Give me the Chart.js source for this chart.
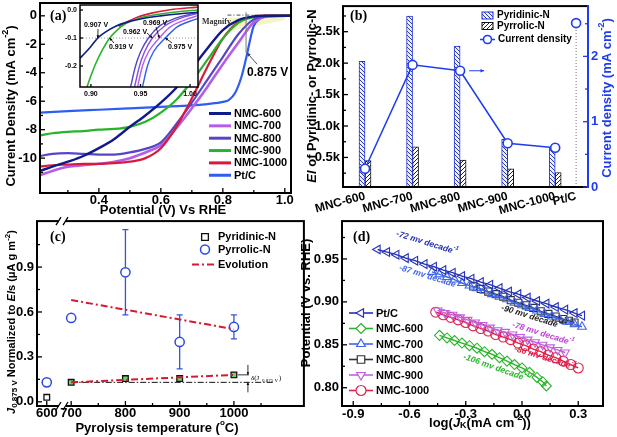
<!DOCTYPE html>
<html>
<head>
<meta charset="utf-8">
<script src="https://cdn.jsdelivr.net/npm/chart.js@4.4.1/dist/chart.umd.min.js"></script>
<style>
  body { margin: 0; background: #fff; }
  #wrap { position: relative; width: 617px; height: 437px; overflow: hidden; background: #fff; }
  canvas { position: absolute; }
</style>
</head>
<body>
<div id="wrap">
  <canvas id="ca" width="305" height="218" style="left:0;top:0"></canvas>
  <canvas id="cb" width="317" height="215" style="left:300px;top:0"></canvas>
  <canvas id="cc" width="310" height="222" style="left:0;top:215px"></canvas>
  <canvas id="cd" width="319" height="222" style="left:298px;top:215px"></canvas>
  <canvas id="ci" width="160" height="100" style="left:45px;top:0"></canvas>
</div>
<script>
// ---- (a) LSV curves, current density (mA cm-2) vs potential (V)
const lsvV  = [0.21, 0.25, 0.30, 0.35, 0.40, 0.45, 0.50, 0.55, 0.60, 0.65, 0.70, 0.75, 0.80, 0.85, 0.90, 0.95, 1.02];
const j600  = [-10.9, -10.6, -10.25, -9.85, -9.3, -8.65, -7.8, -7.0, -6.1, -5.05, -3.7, -2.3, -1.0, -0.3, -0.05, 0, 0];
const j700  = [-11.2, -10.9, -10.6, -10.5, -10.4, -10.25, -10.0, -9.6, -9.1, -7.9, -6.5, -5.0, -3.4, -1.9, -0.45, -0.02, 0];
const j800  = [-9.85, -9.7, -9.65, -9.7, -9.75, -9.75, -9.6, -9.35, -8.9, -7.6, -6.1, -4.5, -2.9, -1.3, -0.25, 0, 0];
const j900  = [-8.4, -8.25, -8.15, -8.1, -8.0, -7.95, -7.8, -7.45, -6.8, -5.9, -4.6, -3.1, -1.6, -0.5, -0.1, 0, 0.01];
const j1000 = [-10.6, -10.5, -10.45, -10.4, -10.4, -10.35, -10.25, -10.0, -9.3, -7.8, -5.8, -3.6, -1.6, -0.45, -0.05, 0.02, 0.03];
const ptV   = [0.21, 0.30, 0.40, 0.50, 0.60, 0.70, 0.75, 0.80, 0.82, 0.84, 0.86, 0.875, 0.89, 0.90, 0.92, 0.95, 1.02];
const jPt   = [-6.8, -6.7, -6.6, -6.5, -6.4, -6.3, -6.2, -6.05, -5.9, -5.4, -4.3, -3.0, -1.5, -0.7, -0.2, -0.05, 0];
const halfWave = 0.875;

// inset (magnified onset region)
const insV600  = [0.889, 0.895, 0.900, 0.907, 0.915, 0.925, 0.935, 0.950, 0.970, 0.990, 1.008];
const insJ600  = [-0.172, -0.150, -0.130, -0.100, -0.078, -0.058, -0.045, -0.032, -0.021, -0.013, -0.008];
const insV900  = [0.896, 0.900, 0.905, 0.912, 0.919, 0.927, 0.935, 0.950, 0.970, 0.990, 1.008];
const insJ900  = [-0.275, -0.235, -0.190, -0.140, -0.100, -0.070, -0.048, -0.028, -0.014, -0.005, 0.000];
const insV1000 = [0.928, 0.935, 0.945, 0.960, 0.980, 1.000, 1.008];
const insJ1000 = [-0.058, -0.045, -0.028, -0.012, 0.001, 0.008, 0.010];
const insV800  = [0.940, 0.945, 0.950, 0.958, 0.970, 0.985, 1.008];
const insJ800  = [-0.275, -0.200, -0.150, -0.100, -0.055, -0.030, -0.008];
const insV700b = [0.944, 0.949, 0.954, 0.962, 0.974, 0.990, 1.008];
const insJ700b = [-0.275, -0.200, -0.150, -0.100, -0.058, -0.030, -0.012];
const insV700  = [0.947, 0.952, 0.958, 0.969, 0.980, 0.995, 1.008];
const insJ700  = [-0.275, -0.200, -0.150, -0.100, -0.060, -0.035, -0.020];
const insVPt   = [0.952, 0.957, 0.963, 0.975, 0.987, 1.000, 1.008];
const insJPt   = [-0.275, -0.200, -0.150, -0.100, -0.060, -0.040, -0.030];
const insRef = -0.1;
const onsetLabels = ['0.907 V', '0.919 V', '0.962 V', '0.969 V', '0.975 V'];
const onsetV = [0.907, 0.919, 0.962, 0.969, 0.975];

// ---- (b) EI bars + current density
const bCats = ['MNC-600', 'MNC-700', 'MNC-800', 'MNC-900', 'MNC-1000', 'Pt/C'];
const eiPyridinic = [2030, 2750, 2270, 790, 660];
const eiPyrrolic  = [450, 670, 460, 320, 260];
const curDensity  = [0.28, 1.87, 1.78, 0.67, 0.60];
const ptCurDensity = 2.51;
const ptSlot = 4.44; // Pt/C sits closer to the last sample on the axis

// ---- (c) normalised current vs pyrolysis temperature
const tempC = [600, 700, 800, 900, 1000];
const jPyridinic = [0.03, 0.13, 0.155, 0.155, 0.18];
const jPyrrolic  = [0.13, 0.56, 0.865, 0.40, 0.50];
const pyrrolicLo = [null, null, 0.58, 0.22, 0.42];
const pyrrolicHi = [null, null, 1.15, 0.58, 0.58];
const evoTemp = [700, 1000];
const evoHigh = [0.68, 0.485];
const evoLow  = [0.13, 0.18];
const baseTemp = [700, 1075];
const baseJ = [0.13, 0.13];

// ---- (d) Tafel plots, potential vs log(Jk)
const ptLogJ = [-0.77, -0.72, -0.67, -0.62, -0.57, -0.52, -0.47, -0.42, -0.37, -0.32, -0.27, -0.22, -0.17, -0.12, -0.07, -0.02, 0.03, 0.08, 0.13, 0.18, 0.23, 0.28, 0.32];
const ptE    = [0.961, 0.958, 0.955, 0.951, 0.948, 0.944, 0.941, 0.937, 0.934, 0.930, 0.927, 0.923, 0.920, 0.916, 0.912, 0.909, 0.905, 0.901, 0.898, 0.894, 0.891, 0.887, 0.884];
const n600LogJ = [-0.44, -0.40, -0.36, -0.32, -0.28, -0.24, -0.20, -0.16, -0.12, -0.08, -0.04, 0.00, 0.04, 0.08, 0.11, 0.13];
const n600E    = [0.861, 0.858, 0.855, 0.852, 0.849, 0.846, 0.842, 0.839, 0.835, 0.831, 0.827, 0.823, 0.818, 0.812, 0.807, 0.802];
const n700LogJ = [-0.48, -0.44, -0.40, -0.36, -0.32, -0.28, -0.24, -0.20, -0.16, -0.12, -0.08, -0.04, 0.00, 0.04, 0.08, 0.12, 0.16, 0.20, 0.24, 0.28, 0.32];
const n700E    = [0.935, 0.932, 0.929, 0.926, 0.922, 0.919, 0.916, 0.913, 0.909, 0.906, 0.903, 0.899, 0.896, 0.893, 0.890, 0.886, 0.883, 0.880, 0.877, 0.874, 0.871];
const n800LogJ = [-0.26, -0.22, -0.18, -0.14, -0.10, -0.06, -0.02, 0.02, 0.06, 0.10, 0.14, 0.18, 0.22, 0.25, 0.28];
const n800E    = [0.918, 0.915, 0.912, 0.909, 0.906, 0.902, 0.899, 0.896, 0.893, 0.889, 0.886, 0.883, 0.880, 0.878, 0.876];
const n900LogJ = [-0.45, -0.41, -0.37, -0.33, -0.29, -0.25, -0.21, -0.17, -0.13, -0.09, -0.05, -0.01, 0.03, 0.07, 0.11, 0.15, 0.19, 0.23];
const n900E    = [0.890, 0.887, 0.885, 0.882, 0.879, 0.876, 0.873, 0.870, 0.867, 0.865, 0.862, 0.859, 0.856, 0.853, 0.850, 0.847, 0.844, 0.841];
const n1000LogJ = [-0.46, -0.42, -0.38, -0.34, -0.30, -0.26, -0.22, -0.18, -0.14, -0.10, -0.06, -0.02, 0.02, 0.06, 0.10, 0.14, 0.18, 0.22, 0.26, 0.30];
const n1000E    = [0.888, 0.885, 0.882, 0.879, 0.876, 0.872, 0.869, 0.866, 0.862, 0.859, 0.856, 0.852, 0.849, 0.845, 0.842, 0.838, 0.835, 0.831, 0.827, 0.823];
const tafelSlopes = ['-72', '-87', '-90', '-78', '-86', '-106'];

// colours
const col600 = '#101a8a', col700 = '#b45ee8', col800 = '#5546c8', col900 = '#27b32a', col1000 = '#d81a3c', colPt = '#2f5df2';
const blue = '#1e3cf0';

const FT = '"Liberation Sans", Arial, Helvetica, sans-serif';
const FS = '"Liberation Serif", "Times New Roman", serif';
const B = s => 'bold ' + s + 'px ' + FT;
const IB = s => 'italic bold ' + s + 'px ' + FT;

Chart.defaults.font.family = FT;
Chart.defaults.color = '#000';
Chart.defaults.animation = false;
Chart.defaults.events = [];
Chart.defaults.responsive = false;
Chart.defaults.plugins.legend.display = false;
Chart.defaults.plugins.tooltip.enabled = false;

const pts = (xs, ys) => xs.map((x, i) => ({x: x, y: ys[i]}));
const fitX = h => s => { s.height = h; s.paddingLeft = 0; s.paddingRight = 0; s.paddingTop = 0; s.paddingBottom = 0; };
const fitY = w => s => { s.width = w; s.paddingLeft = 0; s.paddingRight = 0; s.paddingTop = 0; s.paddingBottom = 0; };

function axis(min, max, ticks, fmt, fit, size, pad) {
  return {
    type: 'linear', min: min, max: max, offset: false,
    grid: {display: false, drawTicks: false}, border: {display: false},
    afterBuildTicks: s => { s.ticks = ticks.map(v => ({value: v})); },
    afterFit: fit,
    ticks: {font: {size: size || 13, weight: 'bold'}, padding: pad === undefined ? 3 : pad, autoSkip: false, maxRotation: 0, minRotation: 0, callback: fmt}
  };
}

// text with mixed fonts (sub / superscripts), centred on x,y
function rich(ctx, segs, x, y, rot, color) {
  ctx.save();
  ctx.translate(x, y);
  ctx.rotate(rot || 0);
  ctx.textBaseline = 'middle';
  ctx.textAlign = 'left';
  ctx.fillStyle = color || '#000';
  let w = 0;
  segs.forEach(s => { ctx.font = s[1]; w += ctx.measureText(s[0]).width; });
  let cx = -w / 2;
  segs.forEach(s => { ctx.font = s[1]; ctx.fillText(s[0], cx, s[2] || 0); cx += ctx.measureText(s[0]).width; });
  ctx.restore();
}

function arrow(ctx, x1, y1, x2, y2, h) {
  h = h || 4;
  ctx.beginPath(); ctx.moveTo(x1, y1); ctx.lineTo(x2, y2); ctx.stroke();
  const a = Math.atan2(y2 - y1, x2 - x1);
  ctx.beginPath();
  ctx.moveTo(x2, y2);
  ctx.lineTo(x2 - h * Math.cos(a - 0.45), y2 - h * Math.sin(a - 0.45));
  ctx.lineTo(x2 - h * Math.cos(a + 0.45), y2 - h * Math.sin(a + 0.45));
  ctx.closePath(); ctx.fill();
}

function mark(ctx, shape, x, y, r) {
  ctx.beginPath();
  if (shape === 'circle') ctx.arc(x, y, r, 0, 2 * Math.PI);
  else if (shape === 'rect') ctx.rect(x - r * 0.75, y - r * 0.75, r * 1.5, r * 1.5);
  else if (shape === 'diamond') { ctx.moveTo(x, y - r); ctx.lineTo(x + r, y); ctx.lineTo(x, y + r); ctx.lineTo(x - r, y); ctx.closePath(); }
  else {
    const a0 = {up: -90, down: 90, left: 180}[shape] * Math.PI / 180;
    for (let k = 0; k < 3; k++) {
      const t = a0 + k * 2 * Math.PI / 3;
      if (k) ctx.lineTo(x + r * Math.cos(t), y + r * Math.sin(t)); else ctx.moveTo(x + r * Math.cos(t), y + r * Math.sin(t));
    }
    ctx.closePath();
  }
  ctx.fillStyle = '#fff'; ctx.fill(); ctx.stroke();
}

function hatch(ctx, bg, fg, dir) {
  const c = document.createElement('canvas');
  c.width = c.height = 4;
  const g = c.getContext('2d');
  g.fillStyle = bg; g.fillRect(0, 0, 4, 4);
  g.strokeStyle = fg; g.lineWidth = 1;
  g.beginPath();
  if (dir > 0) { g.moveTo(0, 4); g.lineTo(4, 0); g.moveTo(-1, 1); g.lineTo(1, -1); g.moveTo(3, 5); g.lineTo(5, 3); }
  else { g.moveTo(0, 0); g.lineTo(4, 4); g.moveTo(-1, 3); g.lineTo(1, 5); g.moveTo(3, -1); g.lineTo(5, 1); }
  g.stroke();
  return ctx.createPattern(c, 'repeat');
}

// frame + inward tick marks
const frame = {
  id: 'frame',
  afterDatasetsDraw(chart, args, o) {
    const ctx = chart.ctx, a = chart.chartArea;
    ctx.save();
    ctx.lineWidth = o.lw || 2;
    ctx.strokeStyle = '#000';
    ctx.strokeRect(a.left, a.top, a.right - a.left, a.bottom - a.top);
    if (o.rightColor) {
      ctx.strokeStyle = o.rightColor;
      ctx.beginPath(); ctx.moveTo(a.right, a.top - 1); ctx.lineTo(a.right, a.bottom + 1); ctx.stroke();
    }
    (o.marks || []).forEach(m => {
      const sc = chart.scales[m.id];
      const big = m.big || 5, small = m.small || 3;
      ctx.strokeStyle = m.color || '#000';
      ctx.lineWidth = 1.3;
      const all = sc.ticks.map(t => [t.value, big]).concat((m.minor || []).map(v => [v, small]));
      all.forEach(([v, len]) => {
        const p = sc.getPixelForValue(v);
        ctx.beginPath();
        if (m.side === 'bottom') { ctx.moveTo(p, a.bottom); ctx.lineTo(p, a.bottom - len); }
        else if (m.side === 'left') { ctx.moveTo(a.left, p); ctx.lineTo(a.left + len, p); }
        else { ctx.moveTo(a.right, p); ctx.lineTo(a.right - len, p); }
        ctx.stroke();
      });
    });
    ctx.restore();
  }
};

// ================= (a) =================
function curve(xs, ys, color, w) {
  return {data: pts(xs, ys), borderColor: color, borderWidth: w || 2.2, pointRadius: 0, cubicInterpolationMode: 'monotone', fill: false};
}

const legA = [['NMC-600', col600], ['NMC-700', col700], ['NMC-800', col800], ['NMC-900', col900], ['NMC-1000', col1000], ['Pt/C', colPt]];

const annA = {
  id: 'annA',
  beforeDatasetsDraw(chart) {
    const ctx = chart.ctx, X = v => chart.scales.x.getPixelForValue(v), Y = v => chart.scales.y.getPixelForValue(v);
    ctx.save();
    ctx.fillStyle = 'rgba(238,238,165,0.65)';
    ctx.beginPath();
    ctx.moveTo(X(0.815), Y(-0.15)); ctx.lineTo(X(1.0), Y(0.07)); ctx.lineTo(X(1.0), Y(-0.3)); ctx.lineTo(X(0.815), Y(-1.1));
    ctx.closePath(); ctx.fill();
    ctx.restore();
  },
  afterDraw(chart) {
    const ctx = chart.ctx, X = v => chart.scales.x.getPixelForValue(v), Y = v => chart.scales.y.getPixelForValue(v);
    ctx.save();
    // magnify box edge and half-wave marker
    ctx.strokeStyle = '#222'; ctx.lineWidth = 0.8; ctx.setLineDash([4, 2, 1, 2]);
    ctx.beginPath(); ctx.moveTo(X(0.815), Y(0.05)); ctx.lineTo(X(0.94), Y(0.05)); ctx.stroke();
    ctx.setLineDash([]);
    ctx.strokeStyle = '#777'; ctx.lineWidth = 1;
    ctx.beginPath(); ctx.moveTo(X(halfWave), Y(0.25)); ctx.lineTo(X(halfWave), Y(-2.6)); ctx.stroke();
    ctx.fillStyle = '#444'; ctx.strokeStyle = '#555';
    arrow(ctx, X(halfWave) + 11, Y(-3.4), X(halfWave) + 1, Y(-2.6), 4);
    ctx.fillStyle = '#333'; ctx.font = 'bold 8px ' + FS; ctx.textBaseline = 'middle'; ctx.textAlign = 'left';
    ctx.fillText('Magnify', 202, 22);
    ctx.fillStyle = '#000'; ctx.font = B(12);
    ctx.fillText(halfWave.toFixed(3) + ' V', 247, 73);
    ctx.font = 'bold 14px ' + FS;
    ctx.fillText('(a)', 50, 16);
    // legend
    legA.forEach(([t, c], i) => {
      const y = 113.5 + i * 12.35;
      ctx.strokeStyle = c; ctx.lineWidth = 3;
      ctx.beginPath(); ctx.moveTo(209, y); ctx.lineTo(231, y); ctx.stroke();
      ctx.fillStyle = '#000'; ctx.font = B(11);
      ctx.fillText(t, 234, y + 0.5);
    });
    ctx.restore();
    rich(ctx, [['Current Density (mA cm', B(13)], ['-2', B(9), -5], [')', B(13)]], 11, 106, -Math.PI / 2);
    rich(ctx, [['Potential (V) Vs RHE', B(13)]], 163, 210, 0);
  }
};

new Chart(document.getElementById('ca'), {
  type: 'line',
  data: {datasets: [
    curve(lsvV, j600, col600, 2.4),
    curve(lsvV, j900, col900),
    curve(lsvV, j1000, col1000),
    curve(lsvV, j800, col800),
    curve(lsvV, j700, col700, 2.6),
    curve(ptV, jPt, colPt)
  ]},
  options: {
    layout: {padding: {top: 3, right: 14, left: 0, bottom: 0}},
    scales: {
      x: axis(0.21, 1.02, [0.4, 0.6, 0.8, 1.0], v => v.toFixed(1), fitX(25), 13, 0),
      y: axis(-12.45, 0.9, [0, -2, -4, -6, -8, -10], v => String(v), fitY(40))
    },
    plugins: {frame: {marks: [
      {id: 'x', side: 'bottom', minor: [0.3, 0.5, 0.7, 0.9]},
      {id: 'y', side: 'left', minor: [-1, -3, -5, -7, -9, -11]}
    ]}}
  },
  plugins: [frame, annA]
});

// inset
const insetBg = {
  id: 'insetBg',
  beforeDraw(chart) {
    const a = chart.chartArea, ctx = chart.ctx;
    ctx.save(); ctx.fillStyle = '#fff'; ctx.fillRect(a.left, a.top, a.right - a.left, a.bottom - a.top); ctx.restore();
  }
};
const annI = {
  id: 'annI',
  beforeDatasetsDraw(chart) {
    const ctx = chart.ctx, a = chart.chartArea, Y = v => chart.scales.y.getPixelForValue(v);
    ctx.save(); ctx.strokeStyle = '#8a9ab8'; ctx.lineWidth = 1; ctx.setLineDash([1, 2]);
    ctx.beginPath(); ctx.moveTo(a.left, Y(insRef)); ctx.lineTo(a.right, Y(insRef)); ctx.stroke();
    ctx.restore();
  },
  afterDraw(chart) {
    const ctx = chart.ctx, X = v => chart.scales.x.getPixelForValue(v), Y = v => chart.scales.y.getPixelForValue(v);
    const ox = 45;
    // label centres (page coords) and where the arrows start
    const spots = [[96, 25, 98, 29], [121, 47, 114, 43], [135, 32, 147, 33], [155, 23, 156, 27], [180, 47, 172, 43]];
    ctx.save();
    ctx.font = B(7); ctx.textAlign = 'center'; ctx.textBaseline = 'middle';
    ctx.fillStyle = '#000'; ctx.strokeStyle = '#000'; ctx.lineWidth = 0.8;
    onsetLabels.forEach((t, i) => {
      const s = spots[i];
      ctx.fillText(t, s[0] - ox, s[1]);
      arrow(ctx, s[2] - ox, s[3], X(onsetV[i]), Y(insRef), 3);
    });
    ctx.restore();
  }
};

new Chart(document.getElementById('ci'), {
  type: 'line',
  data: {datasets: [
    curve(insV600, insJ600, col600, 1.6),
    curve(insV900, insJ900, col900, 1.6),
    curve(insV1000, insJ1000, col1000, 1.6),
    curve(insV800, insJ800, col800, 1.4),
    curve(insV700b, insJ700b, '#8a4ee0', 1.4),
    curve(insV700, insJ700, col700, 1.4),
    curve(insVPt, insJPt, colPt, 1.4)
  ]},
  options: {
    layout: {padding: {top: 5, right: 7, left: 0, bottom: 0}},
    scales: {
      x: axis(0.889, 1.008, [0.90, 0.95, 1.00], v => v.toFixed(2), fitX(13), 7),
      y: axis(-0.275, 0.018, [0, -0.1, -0.2], v => v.toFixed(1), fitY(35), 7)
    },
    plugins: {frame: {lw: 1.5, marks: [
      {id: 'x', side: 'bottom', big: 3, small: 2},
      {id: 'y', side: 'left', big: 3, small: 2}
    ]}}
  },
  plugins: [insetBg, frame, annI]
});

// ================= (b) =================
const cbCanvas = document.getElementById('cb');
const cbCtx = cbCanvas.getContext('2d');
const patPyridinic = hatch(cbCtx, '#eef0ff', '#2a3ad0', -1);
const patPyrrolic = hatch(cbCtx, '#fff', '#222', 1);

const annB = {
  id: 'annB',
  afterDraw(chart) {
    const ctx = chart.ctx, X = v => chart.scales.x.getPixelForValue(v), Y2 = v => chart.scales.y2.getPixelForValue(v);
    ctx.save();
    ctx.translate(-300, 0);
    ctx.font = 'bold 14px ' + FS; ctx.fillStyle = '#000'; ctx.textBaseline = 'middle'; ctx.textAlign = 'left';
    ctx.fillText('(b)', 350, 16);
    // legend
    ctx.lineWidth = 1;
    ctx.fillStyle = patPyridinic; ctx.strokeStyle = '#2233cc';
    ctx.fillRect(482, 12, 11, 7); ctx.strokeRect(482, 12, 11, 7);
    ctx.fillStyle = patPyrrolic; ctx.strokeStyle = '#111';
    ctx.fillRect(482, 22.5, 11, 7); ctx.strokeRect(482, 22.5, 11, 7);
    ctx.strokeStyle = blue; ctx.lineWidth = 1.5;
    ctx.beginPath(); ctx.moveTo(480, 39.5); ctx.lineTo(495, 39.5); ctx.stroke();
    ctx.lineWidth = 1.6; mark(ctx, 'circle', 487.5, 39.5, 4);
    ctx.fillStyle = '#000'; ctx.font = B(10);
    ctx.fillText('Pyridinic-N', 497, 15.5);
    ctx.fillText('Pyrrolic-N', 497, 26);
    ctx.fillText('Current density', 498, 39.5);
    // arrow pointing to the right-hand axis
    ctx.strokeStyle = blue; ctx.fillStyle = blue; ctx.lineWidth = 1;
    arrow(ctx, X(2) + 300 + 9, Y2(curDensity[2]), X(2) + 300 + 24, Y2(curDensity[2]), 4);
    ctx.restore();
    rich(ctx, [['EI', IB(13)], [' of Pyridinic- or Pyrrolic-N', B(13)]], 12, 96, -Math.PI / 2);
    rich(ctx, [['Current density (mA cm', B(13)], ['-2', B(9), -5], [')', B(13)]], 307, 98, -Math.PI / 2, blue);
  }
};

const bX = axis(-0.463, 4.69, [0, 1, 2, 3, 4, ptSlot], (v, i) => bCats[i], fitX(28), 12, 2);
bX.ticks.minRotation = 15;
bX.ticks.maxRotation = 15;
const bY2 = axis(0, 2.77, [0, 1, 2], v => String(v), fitY(29));
bY2.position = 'right';
bY2.ticks.color = blue;

new Chart(cbCanvas, {
  type: 'bar',
  data: {datasets: [
    {type: 'line', order: 0, yAxisID: 'y2', data: curDensity.map((v, i) => ({x: i, y: v})),
     borderColor: blue, borderWidth: 1.5, pointRadius: 4.5, pointBorderWidth: 1.6, pointBackgroundColor: '#fff', pointBorderColor: blue},
    {type: 'line', order: 0, yAxisID: 'y2', data: [{x: ptSlot, y: 0}, {x: ptSlot, y: ptCurDensity}],
     borderColor: '#777', borderWidth: 1, borderDash: [1, 2], pointRadius: [0, 4.5], pointBorderWidth: 1.6, pointBackgroundColor: '#fff', pointBorderColor: blue},
    {type: 'bar', order: 1, yAxisID: 'y', data: eiPyridinic.map((v, i) => ({x: i, y: v})),
     backgroundColor: patPyridinic, borderColor: '#2233cc', borderWidth: 1, barThickness: 6},
    {type: 'bar', order: 1, yAxisID: 'y', data: eiPyrrolic.map((v, i) => ({x: i, y: v})),
     backgroundColor: patPyrrolic, borderColor: '#111', borderWidth: 1, barThickness: 6}
  ]},
  options: {
    layout: {padding: {top: 2, right: 0, left: 0, bottom: 0}},
    scales: {
      x: bX,
      y: axis(30, 2907, [500, 1000, 1500, 2000, 2500], v => (v / 1000).toFixed(1) + 'k', fitY(43)),
      y2: bY2
    },
    plugins: {frame: {rightColor: blue, marks: [
      {id: 'y', side: 'left', minor: [250, 750, 1250, 1750, 2250, 2750]},
      {id: 'y2', side: 'right', color: blue, minor: [0.5, 1.5, 2.5]}
    ]}}
  },
  plugins: [frame, annB]
});

// ================= (c) =================
const brk = t => (t === 600 ? 655 : t); // broken axis squeezes 600 next to 700

const annC = {
  id: 'annC',
  afterDatasetsDraw(chart) {
    const ctx = chart.ctx, X = v => chart.scales.x.getPixelForValue(v), Y = v => chart.scales.y.getPixelForValue(v);
    ctx.save();
    ctx.strokeStyle = '#3355dd'; ctx.lineWidth = 1.3;
    tempC.forEach((t, i) => {
      if (pyrrolicLo[i] === null) return;
      const x = X(brk(t));
      ctx.beginPath();
      ctx.moveTo(x, Y(pyrrolicLo[i])); ctx.lineTo(x, Y(jPyrrolic[i]) + 5);
      ctx.moveTo(x, Y(jPyrrolic[i]) - 5); ctx.lineTo(x, Y(pyrrolicHi[i]));
      ctx.moveTo(x - 3, Y(pyrrolicLo[i])); ctx.lineTo(x + 3, Y(pyrrolicLo[i]));
      ctx.moveTo(x - 3, Y(pyrrolicHi[i])); ctx.lineTo(x + 3, Y(pyrrolicHi[i]));
      ctx.stroke();
    });
    ctx.restore();
  },
  afterDraw(chart) {
    const ctx = chart.ctx, a = chart.chartArea, X = v => chart.scales.x.getPixelForValue(v), Y = v => chart.scales.y.getPixelForValue(v);
    ctx.save();
    // axis break marks
    [a.bottom, a.top].forEach(yy => {
      ctx.fillStyle = '#fff'; ctx.fillRect(59, yy - 2, 7, 4);
      ctx.strokeStyle = '#000'; ctx.lineWidth = 1.3;
      ctx.beginPath();
      ctx.moveTo(56, yy + 4); ctx.lineTo(61, yy - 4);
      ctx.moveTo(63, yy + 4); ctx.lineTo(68, yy - 4);
      ctx.stroke();
    });
    // delta annotation between the two dash-dot lines at 1000 C
    const xd = X(1000), yHi = Y(evoLow[1]), yLo = Y(baseJ[0]);
    ctx.strokeStyle = '#000'; ctx.fillStyle = '#000'; ctx.lineWidth = 0.8;
    ctx.beginPath(); ctx.moveTo(xd + 4, yHi); ctx.lineTo(xd + 15, yHi); ctx.stroke();
    arrow(ctx, xd + 14, yHi - 10, xd + 14, yHi, 3);
    arrow(ctx, xd + 14, yLo + 10, xd + 14, yLo, 3);
    ctx.font = '7px ' + FS; ctx.textBaseline = 'middle'; ctx.textAlign = 'left';
    ctx.fillText('\u03b4(J', xd + 17, (yHi + yLo) / 2);
    ctx.font = '5px ' + FS; ctx.fillText('0.875 V', xd + 28, (yHi + yLo) / 2 + 2);
    ctx.font = '7px ' + FS; ctx.fillText(')', xd + 45, (yHi + yLo) / 2);
    // panel label + legend
    ctx.font = 'bold 14px ' + FS; ctx.fillText('(c)', 50, 22);
    ctx.lineWidth = 1.3; ctx.strokeStyle = '#111';
    mark(ctx, 'rect', 205, 22, 4.5);
    ctx.strokeStyle = '#2a4ae8'; ctx.lineWidth = 1.5;
    mark(ctx, 'circle', 205, 34.5, 4.5);
    ctx.strokeStyle = '#d81830'; ctx.lineWidth = 2; ctx.setLineDash([7, 3, 2, 3]);
    ctx.beginPath(); ctx.moveTo(192, 49.5); ctx.lineTo(214, 49.5); ctx.stroke();
    ctx.setLineDash([]);
    ctx.fillStyle = '#000'; ctx.font = B(11);
    ctx.fillText('Pyridinic-N', 218, 22);
    ctx.fillText('Pyrrolic-N', 218, 34.5);
    ctx.fillText('Evolution', 218, 49.5);
    ctx.restore();
    rich(ctx, [['J', IB(11)], ['0.875 V', B(8), 3], [' Normalized to ', B(11)], ['EI', IB(11)], ['s (\u03bcA g m', B(11)], ['-2', B(8), -4], [')', B(11)]], 12, 107, -Math.PI / 2);
    rich(ctx, [['Pyrolysis temperature (', B(13)], ['o', B(8), -5], ['C)', B(13)]], 157, 213, 0);
  }
};

new Chart(document.getElementById('cc'), {
  type: 'line',
  data: {datasets: [
    {data: pts(evoTemp, evoLow), borderColor: '#d81830', borderWidth: 2, borderDash: [7, 3, 2, 3], pointRadius: 0},
    {data: pts(evoTemp, evoHigh), borderColor: '#d81830', borderWidth: 2, borderDash: [7, 3, 2, 3], pointRadius: 0},
    {data: tempC.map((t, i) => ({x: brk(t), y: jPyridinic[i]})), showLine: false, pointStyle: 'rect', pointRadius: 4,
     pointBorderColor: '#111', pointBorderWidth: 1.3,
     pointBackgroundColor: ['rgba(0,0,0,0)', 'rgba(80,200,80,0.8)', 'rgba(80,200,80,0.8)', 'rgba(80,200,80,0.8)', 'rgba(80,200,80,0.8)']},
    {data: tempC.map((t, i) => ({x: brk(t), y: jPyrrolic[i]})), showLine: false, pointStyle: 'circle', pointRadius: 4.6,
     pointBorderColor: '#2a4ae8', pointBorderWidth: 1.5, pointBackgroundColor: 'rgba(0,0,0,0)'},
    {data: pts(baseTemp, baseJ), borderColor: '#111', borderWidth: 1, borderDash: [6, 2, 1.5, 2], pointRadius: 0}
  ]},
  options: {
    layout: {padding: {top: 2, right: 3, left: 0, bottom: 0}},
    scales: {
      x: axis(637, 1129, [655, 700, 800, 900, 1000], v => (v === 655 ? '600' : String(v)), fitX(31), 13, 0),
      y: axis(-0.028, 1.207, [0, 0.3, 0.6, 0.9], v => v.toFixed(1), fitY(37))
    },
    plugins: {frame: {marks: [
      {id: 'x', side: 'bottom', minor: [750, 850, 950, 1050]},
      {id: 'y', side: 'left', minor: [0.15, 0.45, 0.75, 1.05]}
    ]}}
  },
  plugins: [frame, annC]
});

// ================= (d) =================
const tafelSeries = [
  ['Pt/C', ptLogJ, ptE, '#2430b8', 'triangle', -90, 'left'],
  ['NMC-600', n600LogJ, n600E, '#2cb52c', 'rectRot', 0, 'diamond'],
  ['NMC-700', n700LogJ, n700E, '#3f66ee', 'triangle', 0, 'up'],
  ['NMC-800', n800LogJ, n800E, '#333333', 'rect', 0, 'rect'],
  ['NMC-900', n900LogJ, n900E, '#c060e0', 'triangle', 180, 'down'],
  ['NMC-1000', n1000LogJ, n1000E, '#e0204a', 'circle', 0, 'circle']
];
// slope labels: [page x, page y, colour, angle]
const slopeSpots = [[427, 243, '#2430b8', 0.3], [430, 277, '#3f66ee', 0.3], [532, 317, '#222', 0.3],
                    [543, 334, '#c040d8', 0.3], [545, 358, '#e0204a', 0.3], [496, 368, '#2cb52c', 0.34]];

const annD = {
  id: 'annD',
  afterDraw(chart) {
    const ctx = chart.ctx;
    ctx.save();
    ctx.translate(-298, -215);
    ctx.font = 'bold 14px ' + FS; ctx.fillStyle = '#000'; ctx.textBaseline = 'middle'; ctx.textAlign = 'left';
    ctx.fillText('(d)', 353, 237);
    tafelSeries.forEach((s, i) => {
      const y = 313 + i * 15.5;
      ctx.strokeStyle = s[3]; ctx.lineWidth = 1.6;
      ctx.beginPath(); ctx.moveTo(349, y); ctx.lineTo(373, y); ctx.stroke();
      ctx.lineWidth = 1.2; mark(ctx, s[6], 361, y, 5);
      ctx.fillStyle = '#000'; ctx.font = B(11);
      ctx.fillText(s[0], 376, y + 0.5);
    });
    slopeSpots.forEach((p, i) => {
      rich(ctx, [[tafelSlopes[i] + ' mv decade', IB(8.5)], ['-1', IB(6), -4]], p[0], p[1], p[3], p[2]);
    });
    ctx.restore();
    rich(ctx, [['Potential (V vs. RHE)', B(13)]], 8, 88, -Math.PI / 2);
    rich(ctx, [['log(', B(13)], ['J', IB(13)], ['K', B(9), 3], ['(mA cm', B(13)], ['-2', B(9), -5], ['))', B(13)]], 182, 208, 0);
  }
};

new Chart(document.getElementById('cd'), {
  type: 'line',
  data: {datasets: tafelSeries.map(s => ({
    data: pts(s[1], s[2]), borderColor: s[3], borderWidth: 1.4, tension: 0.3,
    pointStyle: s[4], pointRotation: s[5], pointRadius: 5, pointBorderColor: s[3],
    pointBackgroundColor: 'rgba(0,0,0,0)', pointBorderWidth: 1.1
  }))},
  options: {
    layout: {padding: {top: 2, right: 14, left: 0, bottom: 0}},
    scales: {
      x: axis(-0.96, 0.432, [-0.9, -0.6, -0.3, 0, 0.3], v => v.toFixed(1), fitX(31), 13, 1),
      y: axis(0.7787, 0.9941, [0.80, 0.85, 0.90, 0.95], v => v.toFixed(2), fitY(44))
    },
    plugins: {frame: {marks: [
      {id: 'x', side: 'bottom', minor: [-0.75, -0.45, -0.15, 0.15]},
      {id: 'y', side: 'left', minor: [0.825, 0.875, 0.925, 0.975]}
    ]}}
  },
  plugins: [frame, annD]
});
</script>
</body>
</html>
